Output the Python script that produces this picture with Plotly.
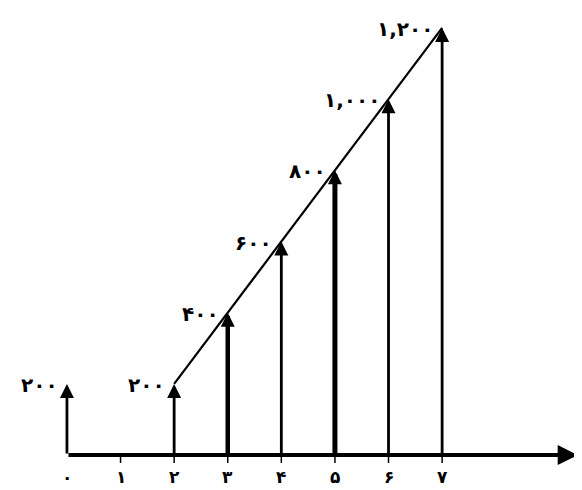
import plotly.graph_objects as go

# Persian-digit labels and values
tick_values = [0, 1, 2, 3, 4, 5, 6, 7]
tick_labels = ["۰", "۱", "۲", "۳", "۴", "۵", "۶", "۷"]
arrow_x = [2, 3, 4, 5, 6, 7]
arrow_values = [200, 400, 600, 800, 1000, 1200]
arrow_labels = ["۲۰۰", "۴۰۰", "۶۰۰", "۸۰۰", "۱,۰۰۰", "۱,۲۰۰"]
start_x = [0]
start_values = [200]
start_labels = ["۲۰۰"]

line_widths = {3: 4.5, 5: 5}
font = dict(family="DejaVu Sans", size=20, color="black")
tick_font = dict(family="DejaVu Sans", size=17, color="black")

fig = go.Figure()

# diagonal joining the arrow tips
fig.add_trace(
    go.Scatter(
        x=arrow_x,
        y=arrow_values,
        mode="lines",
        line=dict(color="black", width=2.2),
        showlegend=False,
        hoverinfo="skip",
    )
)

annotations = []

# horizontal axis arrow
annotations.append(
    dict(
        x=9.53, y=0, ax=0, ay=0, xref="x", yref="y", axref="x", ayref="y",
        text="", showarrow=True, arrowhead=2, arrowsize=1.0, arrowwidth=4,
        arrowcolor="black", standoff=0,
    )
)

# vertical arrows with their labels
for xs, vals, labels in [(start_x, start_values, start_labels), (arrow_x, arrow_values, arrow_labels)]:
    for x, v, lab in zip(xs, vals, labels):
        w = line_widths.get(x, 2.8)
        annotations.append(
            dict(
                x=x, y=v, ax=x, ay=0, xref="x", yref="y", axref="x", ayref="y",
                text="", showarrow=True, arrowhead=2, arrowsize=2.8 / w,
                arrowwidth=w, arrowcolor="black", standoff=0,
            )
        )
        annotations.append(
            dict(
                x=x, y=v, xref="x", yref="y", text="<b>" + lab + "</b>", showarrow=False,
                xanchor="right", yanchor="middle", xshift=-7, yshift=-1,
                font=font,
            )
        )

# tick labels under the axis
for t, lab in zip(tick_values, tick_labels):
    annotations.append(
        dict(
            x=t, y=-62, xref="x", yref="y", text="<b>" + lab + "</b>", showarrow=False,
            xanchor="center", yanchor="middle", font=tick_font,
        )
    )

# small tick marks below the axis
shapes = [
    dict(type="line", x0=t, x1=t, y0=0, y1=-22, xref="x", yref="y",
         line=dict(color="black", width=1.5))
    for t in tick_values if t != 0
]

fig.update_layout(
    width=574,
    height=482,
    margin=dict(l=0, r=0, t=0, b=0),
    paper_bgcolor="white",
    plot_bgcolor="white",
    xaxis=dict(range=[-1.10, 9.61], visible=False, fixedrange=True),
    yaxis=dict(range=[-98, 1256], visible=False, fixedrange=True),
    annotations=annotations,
    shapes=shapes,
    showlegend=False,
)

fig.write_html("out.html")
